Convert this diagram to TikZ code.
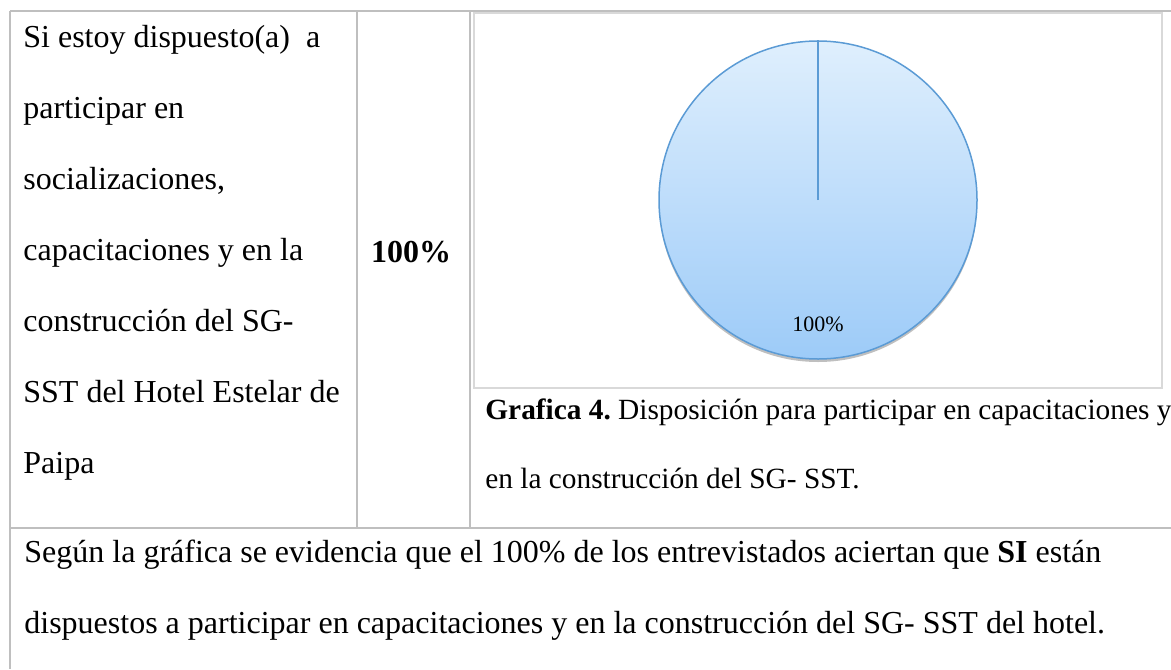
\documentclass[tikz,border=0pt]{standalone}
\usepackage{fontspec}
\setmainfont{Liberation Serif}
\usepackage[dvipsnames]{xcolor}
\usetikzlibrary{positioning,shadows}

\definecolor{gridgray}{HTML}{BFBFBF}
\definecolor{framegray}{HTML}{D9D9D9}
\definecolor{pieedge}{HTML}{5B9BD5}
\definecolor{pietop}{HTML}{DFEFFD}
\definecolor{piebottom}{HTML}{9DCBF8}

\begin{document}
\begin{tikzpicture}[x=0.5pt,y=-0.5pt,node distance=35.5pt,
    cell line/.style={inner sep=0pt,anchor=base west,font=\fontsize{16}{16}\selectfont},
    cap line/.style={inner sep=0pt,anchor=base west,font=\fontsize{14.67}{14.67}\selectfont},
    grid line/.style={draw=gridgray,line width=1pt},
    pie node/.style={circle,minimum size=159pt,inner sep=0pt,draw=pieedge,line width=0.75pt,
      top color=pietop,bottom color=piebottom,
      drop shadow={shadow xshift=0pt,shadow yshift=-1.5pt,opacity=0.25,fill=black}}]
                \useasboundingbox (0,0) rectangle (1171,669);

                % table lines
                \draw[grid line] (10,11) -- (1171,11);
                \draw[grid line] (10,11) -- (10,669);
                \draw[grid line] (357,11) -- (357,528);
                \draw[grid line] (470,11) -- (470,528);
                \draw[grid line] (10,528) -- (1171,528);
                \draw[framegray,line width=0.75pt] (474,13) rectangle (1162,388);

                % first column
                \node[cell line] (q1) at (23,47) {Si estoy dispuesto(a)\ \ a};
                \node[cell line] (q2) [below=of q1.base west, anchor=base west]{participar en};
                \node[cell line] (q3) [below=of q2.base west, anchor=base west]{socializaciones,};
                \node[cell line] (q4) [below=of q3.base west, anchor=base west]{capacitaciones y en la};
                \node[cell line] (q5) [below=of q4.base west, anchor=base west]{construcción del SG-};
                \node[cell line] (q6) [below=of q5.base west, anchor=base west]{SST del Hotel Estelar de};
                \node[cell line] (q7) [below=of q6.base west, anchor=base west]{Paipa};

                % second column
                \node[cell line] (pct) [anchor=base] at (411,262) {\bfseries 100\%};

                % chart
                \node[pie node] (pie) at (818,200) {};
                \draw[pieedge,line width=0.75pt] (pie.center) -- (pie.north);
                \node[inner sep=0pt,anchor=base,font=\fontsize{11}{11}\selectfont] (lbl) at (818,331) {100\%};

                \node[cap line] (c1) at (485,419) {\bfseries Grafica 4.\mdseries\ Disposición para participar en capacitaciones y};
                \node[cap line] (c2) [below=34.5pt of c1.base west, anchor=base west]{en la construcción del SG- SST.};

                % last row
                \node[cell line] (r1) at (24,562) {Según la gráfica se evidencia que el 100\% de los entrevistados aciertan que \textbf{SI} están};
                \node[cell line] (r2) [below=of r1.base west, anchor=base west]{dispuestos a participar en capacitaciones y en la construcción del SG- SST del hotel.};
            \end{tikzpicture}
\end{document}
